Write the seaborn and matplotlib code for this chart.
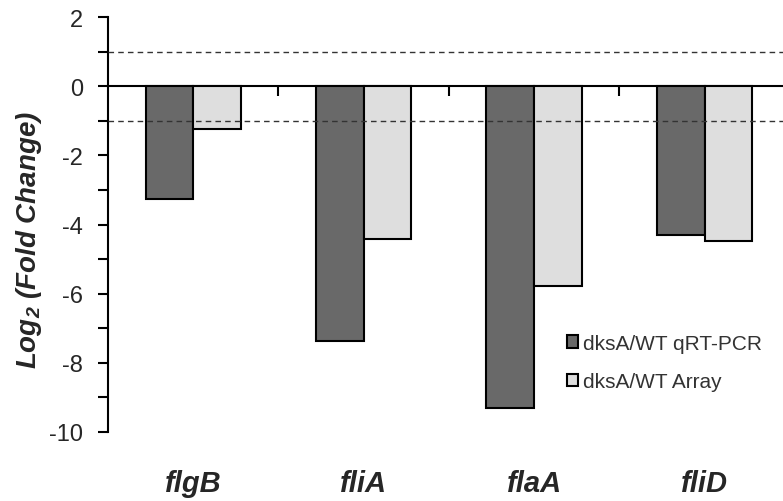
import numpy as np
import pandas as pd
import matplotlib
matplotlib.use("Agg")
import matplotlib.pyplot as plt
import seaborn as sns

# data
genes = ["flgB", "fliA", "flaA", "fliD"]
series = ["dksA/WT qRT-PCR", "dksA/WT Array"]
qrt_pcr = [-3.27, -7.37, -9.3, -4.31]
array = [-1.24, -4.42, -5.78, -4.48]
y_ticks = [-10, -8, -6, -4, -2, 0, 2]
threshold = [1, -1]

colors = ["#696969", "#dedede"]

df = pd.DataFrame({
    "gene": genes * 2,
    "series": [series[0]] * len(genes) + [series[1]] * len(genes),
    "value": qrt_pcr + array,
})

sns.set_style("white")
plt.rcParams["font.family"] = ["Liberation Sans", "DejaVu Sans"]
plt.rcParams["axes.unicode_minus"] = False
plt.rcParams["mathtext.fontset"] = "custom"
plt.rcParams["mathtext.rm"] = "Liberation Sans:bold:italic"
plt.rcParams["mathtext.it"] = "Liberation Sans:bold:italic"

fig = plt.figure(figsize=(7.83, 5.02), dpi=100)
ax = fig.add_axes([108 / 783, 69 / 502, 1 - 108 / 783, 415 / 502])

sns.barplot(data=df, x="gene", y="value", hue="series", palette=colors,
            width=0.56, gap=0, edgecolor="black", linewidth=1.5,
            saturation=1, ax=ax)

ylo, yhi = y_ticks[0], y_ticks[-1]
ax.set_ylim(ylo, yhi)
ax.set_xlim(-0.5, 3.46)

# dashed threshold lines
for t in threshold:
    ax.axhline(t, color="#333333", lw=1.0, ls=(0, (4, 3)), zorder=5)

# y axis
ax.set_yticks(y_ticks)
ax.set_yticks(np.arange(ylo + 1, yhi, 2), minor=True)
ax.tick_params(axis="y", which="both", direction="out", length=7, width=1.5,
               left=True, labelsize=17, pad=11, color="black")
for s in ["top", "right", "bottom"]:
    ax.spines[s].set_visible(False)
ax.spines["left"].set_linewidth(1.5)
ax.spines["left"].set_color("black")

# category labels at the bottom
ax.tick_params(axis="x", which="both", length=0, pad=27)
ax.set_xticks(range(len(genes)))
ax.set_xticklabels(genes, fontsize=21, fontweight="bold", fontstyle="italic")
ax.set_xlabel("")

ax.set_ylabel("Log$_2$ (Fold Change)", fontsize=20, fontweight="bold",
              fontstyle="italic")
ax.yaxis.set_label_coords(-0.095, 0.465)

# zero line with separator ticks between groups
zero_loc = (0 - ylo) / (yhi - ylo)
sec = ax.secondary_xaxis(zero_loc)
sec.set_xticks([0.5, 1.5, 2.5])
sec.set_xticklabels([])
sec.tick_params(axis="x", direction="in", length=7, width=1.5, color="black")
for s in sec.spines.values():
    s.set_linewidth(1.5)
    s.set_color("black")

leg = ax.legend(loc="upper left", bbox_to_anchor=(0.68, 0.237), frameon=False,
                fontsize=15, handlelength=0.55, handleheight=0.55,
                handletextpad=0.2, labelspacing=0.95, borderpad=0,
                borderaxespad=0)
for h in leg.legend_handles:
    h.set_edgecolor("black")
    h.set_linewidth(1.5)
for txt in leg.get_texts():
    txt.set_color("#333333")

fig.savefig("out.png", dpi=100)
